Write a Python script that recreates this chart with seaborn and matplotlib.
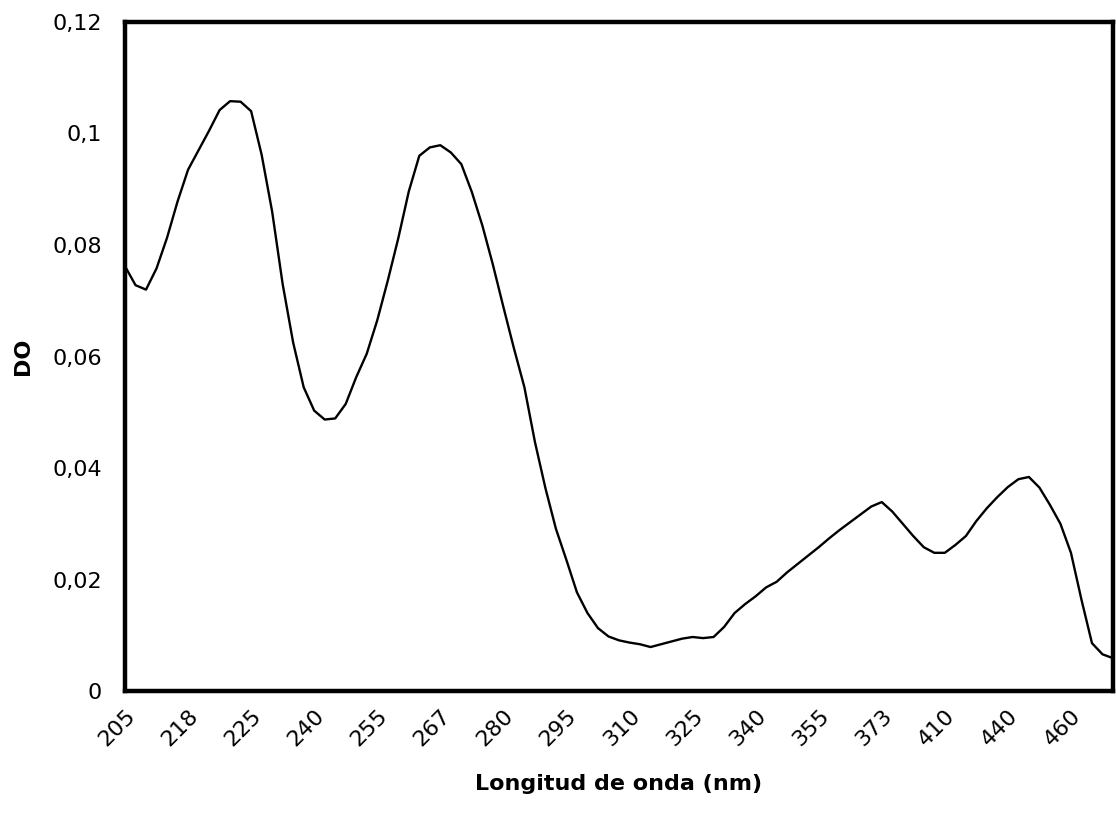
import numpy as np
import pandas as pd
import matplotlib
matplotlib.use("Agg")
import matplotlib.pyplot as plt
import seaborn as sns

# Labeled wavelengths (every third tick mark)
wavelength_labels = ["205", "218", "225", "240", "255", "267", "280", "295",
                     "310", "325", "340", "355", "373", "410", "440", "460"]

# Optical density readings (DO), sampled along the category axis
do_values = [
    0.0762, 0.0728, 0.0720, 0.0758, 0.0813, 0.0878, 0.0935, 0.0970, 0.1005, 0.1042,
    0.1058, 0.1057, 0.1040, 0.0962, 0.0860, 0.0730, 0.0625, 0.0545, 0.0503, 0.0487,
    0.0489, 0.0515, 0.0563, 0.0605, 0.0665, 0.0736, 0.0812, 0.0896, 0.0960, 0.0975,
    0.0979, 0.0966, 0.0945, 0.0895, 0.0835, 0.0765, 0.0689, 0.0615, 0.0545, 0.0447,
    0.0364, 0.0291, 0.0235, 0.0177, 0.0140, 0.0113, 0.0098, 0.0091, 0.0087, 0.0084,
    0.0079, 0.0084, 0.0089, 0.0094, 0.0097, 0.0095, 0.0097, 0.0115, 0.0140, 0.0156,
    0.0170, 0.0186, 0.0196, 0.0213, 0.0228, 0.0243, 0.0258, 0.0274, 0.0289, 0.0303,
    0.0317, 0.0331, 0.0339, 0.0322, 0.0300, 0.0278, 0.0258, 0.0248, 0.0248, 0.0262,
    0.0278, 0.0305, 0.0328, 0.0348, 0.0366, 0.0380, 0.0384, 0.0365, 0.0334, 0.0300,
    0.0248, 0.0164, 0.0086, 0.0066, 0.0059,
]

y_ticks = [0, 0.02, 0.04, 0.06, 0.08, 0.10, 0.12]
y_tick_labels = ["0", "0,02", "0,04", "0,06", "0,08", "0,1", "0,12"]

sns.set_theme(style="white")
plt.rcParams["font.family"] = ["DejaVu Sans"]

df = pd.DataFrame({"pos": np.arange(len(do_values)), "DO": do_values})

fig = plt.figure(figsize=(11.16, 8.14), dpi=100)
ax = fig.add_axes([0.112, 0.151, 0.8853, 0.822])

sns.lineplot(data=df, x="pos", y="DO", ax=ax, color="black", linewidth=1.7,
             sort=False, clip_on=False)
for ln in ax.get_lines():
    ln.set_solid_joinstyle("round")
    ln.set_solid_capstyle("round")

n = len(do_values)
ax.set_xlim(0, n - 1)
ax.set_ylim(0, 0.12)

tick_pos = np.arange(0, n, 2)
labels = []
for p in tick_pos:
    if p % 6 == 0 and p // 6 < len(wavelength_labels):
        labels.append(wavelength_labels[p // 6])
    else:
        labels.append("")
ax.set_xticks(tick_pos)
ax.set_xticklabels(labels, rotation=45, ha="right", rotation_mode="anchor",
                   fontsize=16)
ax.set_yticks(y_ticks)
ax.set_yticklabels(y_tick_labels, fontsize=16)

ax.tick_params(axis="both", direction="inout", length=11, width=0.9,
               color="black", labelcolor="black")
ax.tick_params(axis="x", pad=5)
ax.tick_params(axis="y", pad=11)

for s in ax.spines.values():
    s.set_visible(True)
    s.set_color("black")
    s.set_linewidth(3.2)

ax.set_xlabel("Longitud de onda (nm)", fontsize=16, fontweight="bold",
              labelpad=17, color="black")
ax.set_ylabel("DO", fontsize=16, fontweight="bold", labelpad=14, color="black")
ax.grid(False)

fig.savefig("out.png", dpi=100, facecolor="white")
